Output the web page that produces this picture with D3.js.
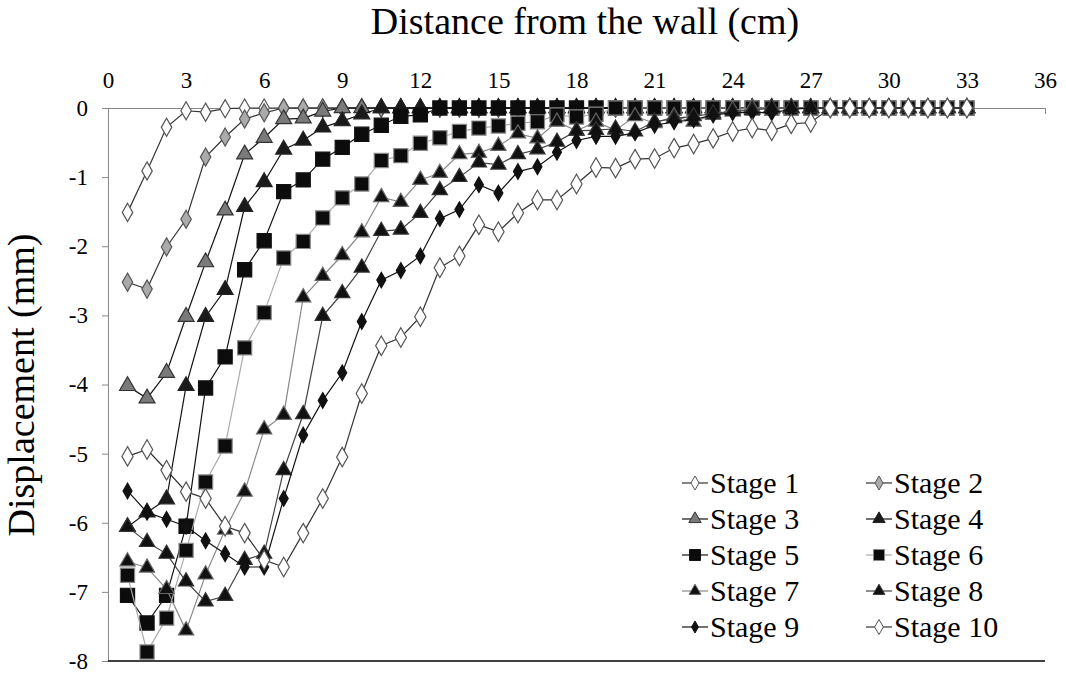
<!DOCTYPE html>
<html>
<head>
<meta charset="utf-8">
<script src="https://cdn.jsdelivr.net/npm/d3@7"></script>
<style>
body { margin: 0; background: #fff; }
svg text { font-family: 'Liberation Serif', 'DejaVu Serif', serif !important; }
</style>
</head>
<body>
<script>
// distances: 0.75 cm steps from 0.75 to 33
var distances = d3.range(1, 45).map(i => i * 0.75);

function pad(arr) { // trailing zeros out to 33 cm
  return arr.concat(d3.range(44 - arr.length).map(() => 0));
}

var stage1 = pad([-1.51, -0.91, -0.28, -0.04, -0.06, -0.01, 0]);
var stage2 = pad([-2.52, -2.62, -2.01, -1.61, -0.71, -0.42, -0.16, -0.07, 0]);
var stage3 = pad([-4.02, -4.2, -3.83, -3.02, -2.23, -1.48, -0.67, -0.43, -0.16, -0.15, -0.05, 0]);
var stage4 = pad([-6.06, -5.85, -5.66, -4.02, -3.02, -2.63, -1.43, -1.07, -0.6, -0.47, -0.28, -0.19, -0.09, 0]);
var stage5 = pad([-7.05, -7.45, -7.05, -6.05, -4.05, -3.6, -2.34, -1.92, -1.21, -1.04, -0.74, -0.57,
  -0.38, -0.25, -0.12, -0.1, 0]);
var stage6 = pad([-6.76, -7.87, -7.38, -6.4, -5.41, -4.89, -3.47, -2.96, -2.17, -1.93, -1.59, -1.3,
  -1.1, -0.76, -0.69, -0.51, -0.43, -0.34, -0.29, -0.26, -0.22, -0.2, -0.1, -0.13, -0.09, 0]);
var stage7 = pad([-6.56, -6.65, -6.96, -7.56, -6.75, -6.1, -5.55, -4.65, -4.44, -2.74, -2.43, -2.13,
  -1.8, -1.29, -1.36, -1.04, -0.94, -0.67, -0.65, -0.55, -0.37, -0.44, -0.2, -0.33, -0.2, -0.32,
  -0.12, -0.22, -0.12, -0.2, -0.1, -0.03, 0]);
var stage8 = pad([-6.06, -6.28, -6.45, -6.85, -7.14, -7.06, -6.54, -6.45, -5.24, -4.43, -3.01, -2.68,
  -2.31, -1.78, -1.76, -1.52, -1.19, -1.0, -0.79, -0.82, -0.67, -0.6, -0.49, -0.33, -0.32, -0.3,
  -0.34, -0.2, -0.15, -0.12, -0.08, -0.05, -0.03, 0]);
var stage9 = pad([-5.54, -5.85, -5.95, -6.05, -6.26, -6.45, -6.64, -6.64, -5.65, -4.73, -4.23, -3.83,
  -3.09, -2.49, -2.35, -2.14, -1.6, -1.47, -1.11, -1.23, -0.92, -0.85, -0.64, -0.47, -0.41, -0.41,
  -0.36, -0.25, -0.2, -0.17, -0.1, -0.07, -0.06, -0.07, -0.02, 0]);
var stage10 = pad([-5.04, -4.94, -5.24, -5.55, -5.65, -6.05, -6.15, -6.54, -6.64, -6.15, -5.65, -5.05,
  -4.13, -3.44, -3.32, -3.02, -2.31, -2.14, -1.69, -1.79, -1.52, -1.33, -1.33, -1.1, -0.86, -0.87,
  -0.74, -0.73, -0.58, -0.52, -0.44, -0.34, -0.29, -0.33, -0.23, -0.21, 0]);

var stageNames = ["Stage 1", "Stage 2", "Stage 3", "Stage 4", "Stage 5",
  "Stage 6", "Stage 7", "Stage 8", "Stage 9", "Stage 10"];
var stageValues = [stage1, stage2, stage3, stage4, stage5, stage6, stage7, stage8, stage9, stage10];

var xTicks = d3.range(0, 37, 3);
var yTicks = d3.range(0, -9, -1);

// look of each series: symbol, size, fill, outline, line colour
var styles = [
  {sym: d3.symbolDiamond, size: 95, fill: "#fff", stroke: "#555", line: "#333"},
  {sym: d3.symbolDiamond, size: 95, fill: "#aaa", stroke: "#555", line: "#333"},
  {sym: d3.symbolTriangle, size: 110, fill: "#7a7a7a", stroke: "#333", line: "#111"},
  {sym: d3.symbolTriangle, size: 110, fill: "#1a1a1a", stroke: "#222", line: "#111"},
  {sym: d3.symbolSquare, size: 200, fill: "#0c0c0c", stroke: "#111", line: "#111"},
  {sym: d3.symbolSquare, size: 200, fill: "#0c0c0c", stroke: "#888", line: "#aaa"},
  {sym: d3.symbolTriangle, size: 100, fill: "#111", stroke: "#666", line: "#888"},
  {sym: d3.symbolTriangle, size: 100, fill: "#111", stroke: "#333", line: "#444"},
  {sym: d3.symbolDiamond, size: 70, fill: "#111", stroke: "#111", line: "#111"},
  {sym: d3.symbolDiamond, size: 110, fill: "#fff", stroke: "#555", line: "#333"}
];

var W = 1066, H = 681;
var svg = d3.select("body").append("svg").attr("width", W).attr("height", H);

var x = d3.scaleLinear().domain([0, 36]).range([108, 1045]);
var y = d3.scaleLinear().domain([0, -8]).range([108, 661]);

// y axis
var yAxis = svg.append("g").attr("transform", "translate(108,0)")
  .call(d3.axisLeft(y).tickValues(yTicks).tickSize(6).tickPadding(14).tickFormat(d => String(d)));
yAxis.select(".domain").attr("stroke", "#888");
yAxis.selectAll(".tick line").attr("stroke", "#888");
yAxis.selectAll("text").attr("font-size", 23).attr("fill", "#000");

// x axis on top, ticks pointing down into the plot
var xAxis = svg.append("g").attr("transform", "translate(0,108)")
  .call(d3.axisTop(x).tickValues(xTicks).tickSizeInner(-6).tickSizeOuter(0).tickPadding(20));
xAxis.select(".domain").attr("stroke", "#888");
xAxis.selectAll(".tick line").attr("stroke", "#888");
xAxis.selectAll("text").attr("font-size", 23).attr("fill", "#000");

svg.append("line").attr("x1", x(0)).attr("x2", x(36)).attr("y1", y(-8)).attr("y2", y(-8))
  .attr("stroke", "#000").attr("stroke-width", 1.5);

svg.append("text").attr("x", 585).attr("y", 34).attr("text-anchor", "middle")
  .attr("font-size", 38).text("Distance from the wall (cm)");
svg.append("text").attr("transform", "translate(34,385) rotate(-90)").attr("text-anchor", "middle")
  .attr("font-size", 38).text("Displacement (mm)");

var line = d3.line().x(d => x(d[0])).y(d => y(d[1]));

stageValues.forEach(function (vals, k) {
  var st = styles[k];
  var pts = distances.map((d, i) => [d, vals[i]]);
  var g = svg.append("g");
  g.append("path").datum(pts).attr("d", line).attr("fill", "none")
    .attr("stroke", st.line).attr("stroke-width", 1.2);
  g.selectAll("path.pt").data(pts).enter().append("path").attr("class", "pt")
    .attr("d", d3.symbol().type(st.sym).size(st.size))
    .attr("transform", d => "translate(" + x(d[0]) + "," + y(d[1]) + ")")
    .attr("fill", st.fill).attr("stroke", st.stroke).attr("stroke-width", 1.2);
});

// legend
var leg = svg.append("g");
stageNames.forEach(function (name, k) {
  var st = styles[k];
  var col = k % 2, row = Math.floor(k / 2);
  var lx = col === 0 ? 682 : 866, ly = 483 + row * 36;
  leg.append("line").attr("x1", lx).attr("x2", lx + 26).attr("y1", ly).attr("y2", ly)
    .attr("stroke", st.line).attr("stroke-width", 1.2);
  leg.append("path").attr("d", d3.symbol().type(st.sym).size(st.size * 0.6))
    .attr("transform", "translate(" + (lx + 13) + "," + ly + ")")
    .attr("fill", st.fill).attr("stroke", st.stroke);
  leg.append("text").attr("x", lx + 28).attr("y", ly + 10).attr("font-size", 30).text(name);
});
</script>
</body>
</html>
